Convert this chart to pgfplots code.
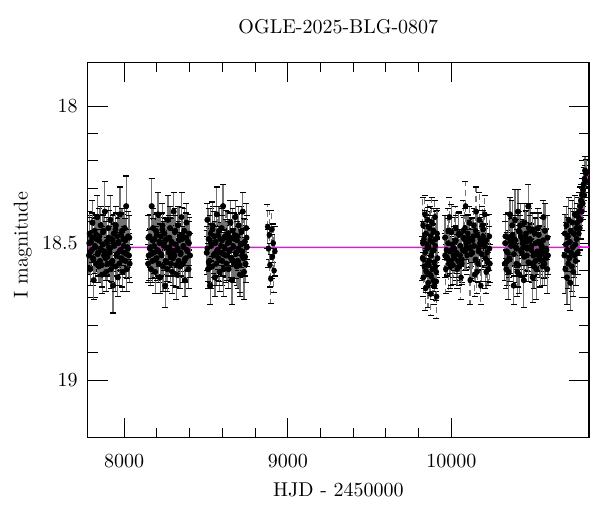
\documentclass[border=0pt]{standalone}
\usepackage{pgfplots}
\pgfplotsset{compat=1.18}
\definecolor{fitmag}{rgb}{1,0,1}
\pgfplotsset{lc/.style={only marks, mark=*, mark size=1.3pt, color=black, mark options={fill=black},
  error bars/.cd, y dir=both, y explicit,
  error bar style={line width=0.6pt, color=black!55},
  error mark options={rotate=90, mark size=1.5pt, line width=0.55pt, color=black}}}
\begin{document}
\begin{tikzpicture}
\begin{axis}[
  scale only axis, width=250.65pt, height=187.7pt,
  xmin=7778, xmax=10840, ymin=17.84, ymax=19.21, y dir=reverse,
  xtick={8000,9000,10000}, minor x tick num=4,
  ytick={18,18.5,19}, minor y tick num=4,
  scaled ticks=false,
  xtick pos=both, ytick pos=both, tick align=inside,
  major tick length=10pt, minor tick length=5pt,
  axis line style={line width=0.6pt}, every tick/.style={black, line width=0.5pt},
  /pgf/number format/1000 sep={},
  xticklabel style={yshift=-4.7pt},
  yticklabel style={xshift=-1.5pt},
  title={OGLE-2025-BLG-0807},
  title style={at={(axis description cs:0.5,1.0458)}, anchor=base},
  xlabel={HJD - 2450000},
  xlabel style={at={(axis description cs:0.5,-0.1556)}, anchor=base},
  ylabel={I magnitude},
  ylabel style={at={(axis description cs:-0.1197,0.513)}, anchor=base, rotate=0},
]
\coordinate (sw) at (rel axis cs:0,0);
% season 1
\addplot+[lc] table[x index=0, y index=1, y error index=2] {
7786 18.545 0.07
7790 18.465 0.08
7794 18.595 0.06
7799 18.495 0.09
7803 18.525 0.07
7807 18.425 0.08
7811 18.555 0.10
7815 18.635 0.07
7820 18.455 0.06
7824 18.515 0.08
7828 18.575 0.07
7832 18.485 0.09
7836 18.405 0.08
7841 18.535 0.07
7845 18.585 0.06
7849 18.475 0.10
7853 18.565 0.08
7857 18.435 0.07
7862 18.525 0.09
7866 18.615 0.07
7870 18.505 0.08
7874 18.455 0.06
7878 18.545 0.07
7883 18.385 0.11
7887 18.555 0.08
7891 18.605 0.07
7895 18.495 0.09
7899 18.575 0.06
7904 18.445 0.08
7908 18.515 0.07
7912 18.535 0.08
7916 18.415 0.09
7920 18.595 0.07
7925 18.485 0.06
7929 18.565 0.08
7933 18.655 0.10
7937 18.465 0.07
7941 18.505 0.08
7946 18.585 0.09
7950 18.435 0.07
7954 18.545 0.06
7958 18.475 0.08
7962 18.625 0.07
7967 18.495 0.09
7971 18.575 0.08
7975 18.395 0.10
7979 18.525 0.07
7983 18.555 0.06
7988 18.455 0.08
7992 18.605 0.07
7996 18.485 0.09
8000 18.535 0.08
8004 18.445 0.07
8009 18.565 0.06
8013 18.365 0.11
8017 18.595 0.08
8021 18.515 0.07
8025 18.475 0.09
8030 18.545 0.08
8034 18.575 0.07
};
\addplot+[lc] table[x index=0, y index=1, y error index=2] {
7788 18.50 0.08
7797 18.53 0.07
7805 18.48 0.09
7813 18.56 0.08
7822 18.51 0.10
7830 18.47 0.07
7839 18.54 0.08
7847 18.49 0.09
7856 18.52 0.07
7864 18.58 0.08
7872 18.46 0.06
7881 18.53 0.09
7889 18.50 0.08
7898 18.55 0.07
7906 18.48 0.10
7914 18.52 0.08
7923 18.57 0.07
7931 18.49 0.09
7940 18.51 0.08
7948 18.45 0.06
7956 18.54 0.08
7965 18.50 0.09
7973 18.53 0.07
7982 18.47 0.08
7990 18.56 0.10
7998 18.51 0.07
8007 18.49 0.08
8015 18.54 0.09
8024 18.52 0.07
8032 18.48 0.08
};
% season 2
\addplot+[lc] table[x index=0, y index=1, y error index=2] {
8147 18.575 0.07
8151 18.545 0.09
8156 18.475 0.08
8160 18.515 0.07
8164 18.595 0.06
8169 18.365 0.10
8173 18.565 0.08
8177 18.445 0.07
8182 18.535 0.09
8186 18.485 0.07
8190 18.605 0.08
8195 18.455 0.06
8199 18.555 0.07
8203 18.525 0.11
8208 18.395 0.08
8212 18.575 0.07
8216 18.495 0.09
8221 18.625 0.06
8225 18.475 0.08
8229 18.545 0.07
8234 18.435 0.08
8238 18.585 0.09
8242 18.505 0.07
8247 18.465 0.06
8251 18.655 0.08
8255 18.565 0.10
8260 18.485 0.07
8264 18.595 0.08
8268 18.415 0.09
8273 18.535 0.07
8277 18.515 0.06
8281 18.445 0.08
8286 18.575 0.07
8290 18.495 0.09
8294 18.605 0.08
8299 18.555 0.10
8303 18.385 0.07
8307 18.545 0.06
8312 18.455 0.08
8316 18.505 0.07
8320 18.615 0.09
8325 18.525 0.08
8329 18.435 0.07
8333 18.565 0.06
8338 18.475 0.11
8342 18.585 0.08
8346 18.535 0.07
8351 18.405 0.09
8355 18.485 0.08
8359 18.575 0.07
8364 18.515 0.07
8368 18.455 0.08
8372 18.635 0.06
8377 18.555 0.09
8381 18.425 0.07
8385 18.525 0.08
8390 18.495 0.10
8394 18.595 0.07
8398 18.465 0.06
8403 18.545 0.08
};
\addplot+[lc] table[x index=0, y index=1, y error index=2] {
8149 18.48 0.08
8158 18.52 0.07
8166 18.54 0.09
8175 18.49 0.08
8183 18.51 0.10
8192 18.56 0.07
8200 18.47 0.08
8209 18.53 0.09
8217 18.50 0.07
8226 18.54 0.08
8234 18.45 0.06
8243 18.51 0.09
8251 18.49 0.08
8260 18.57 0.07
8268 18.52 0.10
8277 18.48 0.08
8285 18.55 0.07
8294 18.50 0.09
8302 18.53 0.08
8311 18.46 0.06
8319 18.58 0.08
8328 18.52 0.09
8336 18.49 0.07
8345 18.54 0.08
8353 18.47 0.10
8362 18.51 0.07
8370 18.56 0.08
8379 18.48 0.09
8387 18.53 0.07
8396 18.50 0.08
};
% season 3
\addplot+[lc] table[x index=0, y index=1, y error index=2] {
8505 18.535 0.08
8509 18.415 0.06
8513 18.595 0.07
8517 18.485 0.11
8522 18.565 0.08
8526 18.655 0.07
8530 18.465 0.09
8534 18.505 0.06
8538 18.585 0.08
8542 18.435 0.07
8547 18.545 0.08
8551 18.475 0.09
8555 18.625 0.07
8559 18.495 0.06
8563 18.575 0.08
8567 18.395 0.10
8571 18.525 0.07
8576 18.555 0.08
8580 18.455 0.09
8584 18.605 0.07
8588 18.485 0.06
8592 18.535 0.08
8596 18.445 0.07
8600 18.565 0.09
8605 18.365 0.08
8609 18.595 0.10
8613 18.515 0.07
8617 18.475 0.06
8621 18.545 0.08
8625 18.575 0.07
8630 18.545 0.09
8634 18.465 0.08
8638 18.595 0.07
8642 18.495 0.06
8646 18.525 0.11
8650 18.425 0.08
8654 18.555 0.07
8659 18.635 0.09
8663 18.455 0.08
8667 18.515 0.07
8671 18.575 0.07
8675 18.485 0.08
8679 18.405 0.06
8684 18.535 0.09
8688 18.585 0.07
8692 18.475 0.08
8696 18.565 0.10
8700 18.435 0.07
8704 18.525 0.06
8708 18.615 0.08
8713 18.505 0.07
8717 18.455 0.09
8721 18.545 0.08
8725 18.385 0.07
8729 18.555 0.06
8733 18.605 0.10
8738 18.495 0.08
8742 18.575 0.07
8746 18.445 0.09
8750 18.515 0.07
};
\addplot+[lc] table[x index=0, y index=1, y error index=2] {
8507 18.52 0.08
8515 18.57 0.07
8524 18.49 0.09
8532 18.51 0.08
8540 18.45 0.10
8549 18.54 0.07
8557 18.50 0.08
8565 18.53 0.09
8573 18.47 0.07
8582 18.56 0.08
8590 18.51 0.06
8598 18.49 0.09
8607 18.54 0.08
8615 18.52 0.07
8623 18.48 0.10
8632 18.50 0.08
8640 18.53 0.07
8648 18.48 0.09
8656 18.56 0.08
8665 18.51 0.06
8673 18.47 0.08
8681 18.54 0.09
8690 18.49 0.07
8698 18.52 0.08
8706 18.58 0.10
8715 18.46 0.07
8723 18.53 0.08
8731 18.50 0.09
8739 18.55 0.07
8748 18.48 0.08
};
% season 4
\addplot+[lc] table[x index=0, y index=1, y error index=2] {
8876 18.44 0.08
8881 18.52 0.07
8886 18.47 0.09
8890 18.58 0.08
8895 18.63 0.09
8900 18.45 0.07
8905 18.55 0.08
8910 18.50 0.07
8915 18.60 0.08
8920 18.53 0.09
};
% season 5
\addplot+[lc] table[x index=0, y index=1, y error index=2] {
9822 18.555 0.08
9825 18.435 0.10
9827 18.625 0.07
9830 18.485 0.06
9833 18.585 0.08
9836 18.395 0.07
9838 18.535 0.09
9841 18.665 0.08
9844 18.465 0.07
9846 18.605 0.06
9849 18.505 0.10
9852 18.575 0.08
9854 18.415 0.07
9857 18.645 0.09
9860 18.515 0.07
9863 18.565 0.08
9865 18.445 0.06
9868 18.615 0.07
9871 18.475 0.11
9873 18.685 0.08
9876 18.545 0.07
9879 18.425 0.09
9881 18.595 0.06
9884 18.495 0.08
9887 18.635 0.07
9890 18.455 0.08
9892 18.525 0.09
9895 18.655 0.07
9898 18.405 0.06
9900 18.585 0.08
9903 18.485 0.10
9906 18.605 0.07
9908 18.695 0.08
9911 18.465 0.09
9914 18.555 0.07
};
\addplot+[lc] table[x index=0, y index=1, y error index=2] {
9823 18.50 0.08
9829 18.56 0.07
9836 18.47 0.09
9842 18.60 0.08
9849 18.52 0.10
9855 18.44 0.07
9861 18.58 0.08
9868 18.49 0.09
9874 18.62 0.07
9881 18.53 0.08
9887 18.46 0.06
9893 18.57 0.09
9900 18.51 0.08
9906 18.64 0.07
9912 18.48 0.10
};
% season 6
\addplot+[lc] table[x index=0, y index=1, y error index=2] {
9959 18.545 0.08
9964 18.595 0.09
9968 18.525 0.07
9973 18.555 0.06
9978 18.455 0.08
9982 18.575 0.10
9987 18.405 0.07
9992 18.585 0.08
9996 18.565 0.09
10001 18.525 0.07
10006 18.505 0.06
10010 18.545 0.08
10015 18.555 0.07
10020 18.495 0.09
10024 18.445 0.08
10029 18.535 0.10
10034 18.595 0.07
10038 18.565 0.06
10043 18.465 0.08
10048 18.585 0.07
10052 18.545 0.09
10057 18.625 0.08
10062 18.575 0.07
10066 18.525 0.06
10071 18.455 0.11
10076 18.485 0.08
10081 18.445 0.07
10085 18.365 0.09
10090 18.515 0.08
10094 18.545 0.07
10099 18.465 0.07
10104 18.495 0.08
10108 18.425 0.06
10113 18.635 0.09
10118 18.515 0.07
10122 18.485 0.08
10127 18.535 0.10
10132 18.475 0.07
10136 18.435 0.06
10141 18.615 0.08
10146 18.455 0.07
10150 18.385 0.09
10155 18.605 0.08
10160 18.575 0.07
10164 18.515 0.06
10169 18.415 0.10
10174 18.485 0.08
10178 18.655 0.07
10183 18.505 0.09
10188 18.435 0.07
10192 18.475 0.08
10197 18.495 0.06
10202 18.395 0.07
10206 18.555 0.11
10211 18.605 0.08
10216 18.535 0.07
10220 18.565 0.09
10225 18.595 0.06
10230 18.475 0.08
10234 18.575 0.07
};
\addplot+[lc] table[x index=0, y index=1, y error index=2] {
9961 18.48 0.08
9970 18.55 0.07
9980 18.50 0.09
9989 18.53 0.08
9998 18.46 0.10
10008 18.58 0.07
10017 18.52 0.08
10026 18.49 0.09
10035 18.54 0.07
10045 18.47 0.08
10054 18.51 0.06
10063 18.56 0.09
10073 18.48 0.08
10082 18.53 0.07
10091 18.50 0.10
10101 18.48 0.08
10110 18.52 0.07
10119 18.54 0.09
10128 18.49 0.08
10138 18.51 0.06
10147 18.56 0.08
10156 18.47 0.09
10166 18.53 0.07
10175 18.50 0.08
10184 18.54 0.10
10194 18.45 0.07
10203 18.51 0.08
10212 18.49 0.09
10221 18.57 0.07
10231 18.52 0.08
};
% season 7
\addplot+[lc] table[x index=0, y index=1, y error index=2] {
10326 18.575 0.06
10330 18.475 0.08
10335 18.595 0.07
10339 18.565 0.09
10344 18.535 0.08
10348 18.605 0.10
10353 18.555 0.07
10357 18.395 0.06
10362 18.495 0.08
10366 18.475 0.07
10371 18.435 0.09
10375 18.505 0.08
10380 18.655 0.07
10384 18.485 0.06
10388 18.415 0.11
10393 18.515 0.08
10397 18.575 0.07
10402 18.605 0.09
10406 18.385 0.08
10411 18.455 0.07
10415 18.615 0.07
10420 18.435 0.08
10424 18.475 0.06
10429 18.535 0.09
10433 18.485 0.07
10438 18.515 0.08
10442 18.635 0.10
10446 18.425 0.07
10451 18.495 0.06
10455 18.465 0.08
10460 18.545 0.07
10464 18.515 0.09
10469 18.365 0.08
10473 18.445 0.07
10478 18.485 0.06
10482 18.455 0.10
10487 18.525 0.08
10491 18.575 0.07
10496 18.625 0.09
10500 18.545 0.07
10504 18.585 0.08
10509 18.465 0.06
10513 18.565 0.07
10518 18.595 0.11
10522 18.535 0.08
10527 18.445 0.07
10531 18.495 0.09
10536 18.555 0.06
10540 18.545 0.08
10545 18.505 0.07
10549 18.525 0.08
10554 18.565 0.09
10558 18.585 0.07
10562 18.405 0.06
10567 18.575 0.08
10571 18.455 0.10
10576 18.555 0.07
10580 18.525 0.08
10585 18.595 0.09
10589 18.545 0.07
};
\addplot+[lc] table[x index=0, y index=1, y error index=2] {
10328 18.50 0.08
10337 18.53 0.07
10346 18.48 0.09
10355 18.56 0.08
10364 18.51 0.10
10373 18.47 0.07
10381 18.54 0.08
10390 18.49 0.09
10399 18.52 0.07
10408 18.58 0.08
10417 18.46 0.06
10426 18.53 0.09
10435 18.50 0.08
10444 18.55 0.07
10453 18.48 0.10
10462 18.52 0.08
10470 18.57 0.07
10479 18.49 0.09
10488 18.51 0.08
10497 18.45 0.06
10506 18.54 0.08
10515 18.50 0.09
10524 18.53 0.07
10533 18.47 0.08
10542 18.56 0.10
10551 18.51 0.07
10559 18.49 0.08
10568 18.54 0.09
10577 18.52 0.07
10586 18.48 0.08
};
% season 8
\addplot+[lc] table[x index=0, y index=1, y error index=2] {
10690 18.545 0.08
10693 18.465 0.07
10696 18.595 0.09
10699 18.505 0.08
10702 18.435 0.07
10705 18.625 0.10
10708 18.525 0.08
10711 18.475 0.07
10714 18.575 0.09
10717 18.415 0.08
10720 18.555 0.08
10723 18.495 0.07
10726 18.645 0.10
10729 18.455 0.08
10732 18.535 0.07
10735 18.585 0.09
10738 18.425 0.08
10741 18.515 0.07
10744 18.605 0.09
10747 18.465 0.08
10750 18.545 0.08
10753 18.395 0.07
10756 18.505 0.08
10759 18.565 0.09
10762 18.445 0.07
10765 18.485 0.08
10768 18.425 0.07
10771 18.535 0.08
10774 18.405 0.07
10777 18.465 0.08
10780 18.385 0.07
10783 18.445 0.08
10786 18.365 0.07
10789 18.415 0.07
10792 18.345 0.06
10795 18.385 0.07
10798 18.325 0.06
10801 18.355 0.06
10804 18.305 0.06
10807 18.285 0.06
10810 18.325 0.06
10813 18.265 0.05
10816 18.235 0.05
10819 18.275 0.06
10822 18.245 0.05
};
\addplot[color=fitmag, line width=0.75pt, smooth, tension=0.4] coordinates {
(7778,18.515) (10690,18.515) (10720,18.513) (10740,18.505) (10755,18.49)
(10766,18.473) (10776,18.45) (10784,18.42) (10790,18.40) (10796,18.375)
(10802,18.35) (10808,18.325) (10814,18.30) (10821,18.272) (10828,18.256)
(10835,18.25) (10840,18.25)
};
\end{axis}
\pgfresetboundingbox
\path (sw) ++(-43.85pt,-37.15pt) rectangle ++(300pt,256pt);
\end{tikzpicture}
\end{document}
